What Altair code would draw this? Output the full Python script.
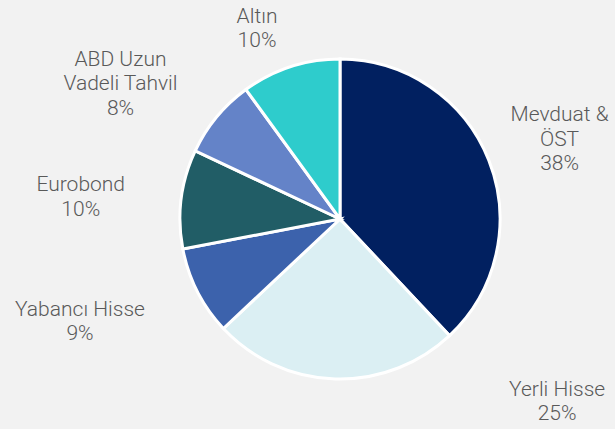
import altair as alt
import pandas as pd

categories = ["Mevduat &\nÖST", "Yerli Hisse", "Yabancı Hisse", "Eurobond", "ABD Uzun\nVadeli Tahvil", "Altın"]
values = [38, 25, 9, 10, 8, 10]
colors = ["#012060", "#DBEFF3", "#3C62AC", "#215D66", "#6483C8", "#2ECCCC"]

df = pd.DataFrame({
    "cat": categories,
    "value": values,
    "idx": list(range(len(categories))),
})

W = H = 322
total = sum(values)

base = alt.Chart(df)

pie = base.mark_arc(outerRadius=160, stroke="white", strokeWidth=3).encode(
    theta=alt.Theta("value:Q", stack=True, scale=alt.Scale(domain=[0, total])),
    order=alt.Order("idx:Q", sort="ascending"),
    color=alt.Color("cat:N", scale=alt.Scale(domain=categories, range=colors), legend=None),
)

# per-label offsets (style), keyed by index
offsets = {0: (15, -23), 1: (224, -49), 2: (-64, -9), 3: (-41, -6), 4: (-50, -19), 5: (-15, 7)}

layers = [pie]
for i, (dx, dy) in offsets.items():
    t = base.transform_window(
        cum="sum(value)", sort=[alt.SortField("idx", order="ascending")]
    ).transform_calculate(
        mid=alt.datum.cum - alt.datum.value / 2,
        label=alt.datum.cat + "\n" + alt.datum.value + "%",
    ).transform_filter(alt.datum.idx == i).mark_text(
        radius=220, dx=dx, dy=dy, font="Roboto", fontWeight=300, fontSize=21,
        lineHeight=24.5, lineBreak="\n", color="#595959", align="center", baseline="middle",
    ).encode(
        theta=alt.Theta("mid:Q", stack=None, scale=alt.Scale(domain=[0, total])),
        text="label:N",
    )
    layers.append(t)

chart = alt.layer(*layers).resolve_scale(theta="independent").properties(
    width=W, height=H,
    autosize=alt.AutoSizeParams(type="none"),
    padding={"left": 179, "top": 58, "right": 615 - 179 - W, "bottom": 429 - 58 - H},
).configure_view(stroke=None).configure(background="#F2F2F2")

chart.save("out.html", embed_options={"renderer": "svg", "actions": False})
